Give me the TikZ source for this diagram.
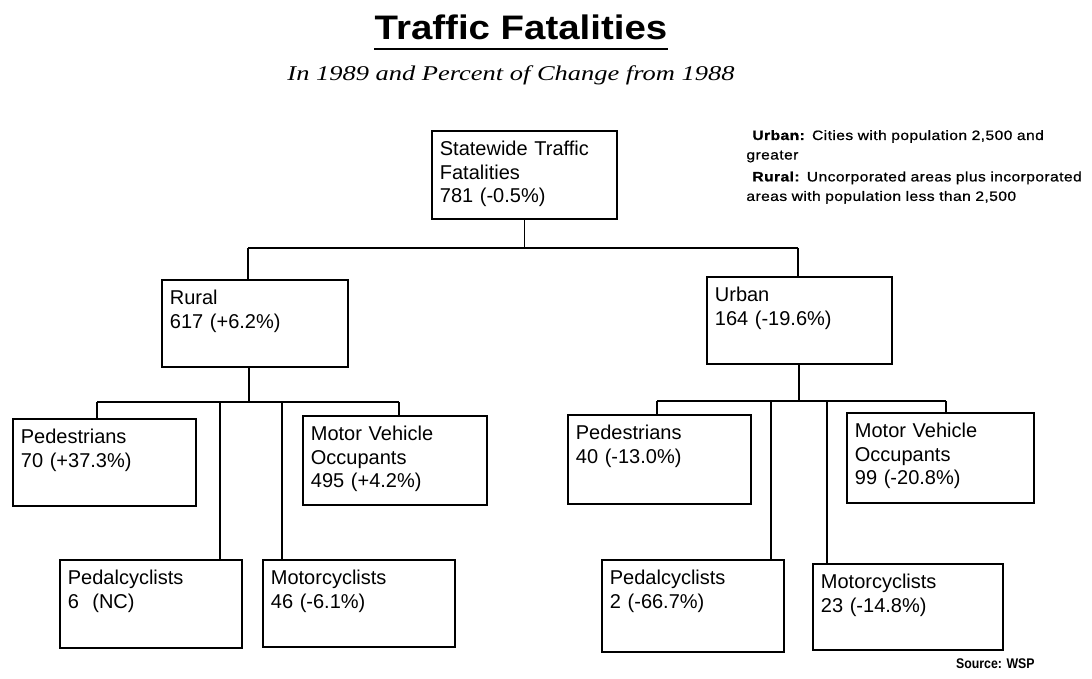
\documentclass[tikz,border=0pt]{standalone}
\usepackage{fontspec}
\setmainfont{Liberation Sans}
\newfontfamily\titlefont[FakeStretch=1.13]{Liberation Sans}
\newfontfamily\subfont[FakeStretch=1.26]{Liberation Serif}
\newfontfamily\legendfont[FakeStretch=1.15,LetterSpace=3,FakeBold=0.8]{Liberation Sans}
\newfontfamily\srcfont[FakeStretch=0.88]{Liberation Sans}
\usepackage{tikz}

\begin{document}
\begin{tikzpicture}[x=0.5pt,y=-0.5pt,
  box/.style={draw,line width=0.9pt,anchor=north west,inner xsep=4pt,inner ysep=0pt,
    align=left,text height=12.5pt,font=\fontsize{10}{11.75}\selectfont},
  link/.style={line width=0.9pt}]
\useasboundingbox (0,0) rectangle (1092,679);

\node[anchor=base,inner sep=0pt,font=\titlefont\bfseries\fontsize{17}{20}\selectfont] (title) at (521,40) {Traffic Fatalities};
\draw[line width=1.3pt] ([yshift=-4.5pt]title.base west) -- ([yshift=-4.5pt]title.base east);
\node[anchor=base,inner sep=0pt,font=\subfont\itshape\fontsize{10.5}{12}\selectfont] (subtitle) at (511,81) {In 1989 and Percent of Change from 1988};

\node[anchor=base west,inner sep=0pt,text width=180pt,align=left,font=\legendfont\fontsize{6.8}{9.75}\selectfont] (legend) at (746,140)
  {\hspace{3pt}\textbf{Urban:} Cities with population 2,500 and\\greater\\[1.2pt]\hspace{3pt}\textbf{Rural:} Uncorporated areas plus incorporated\\areas with population less than 2,500};

\node[box,text width=84.5pt,text depth=31.5pt] (stw) at (431,130) {Statewide Traffic\\Fatalities\\781 (-0.5\%)};
\node[box,text width=85pt,text depth=31pt] (rural) at (161,279) {Rural\\617 (+6.2\%)};
\node[box,text width=84.5pt,text depth=31pt] (urban) at (706,276) {Urban\\164 (-19.6\%)};

\node[box,text width=83.5pt,text depth=31pt] (rped) at (12,418) {Pedestrians\\70 (+37.3\%)};
\node[box,text width=84pt,text depth=32pt] (rmvo) at (302,415) {Motor Vehicle\\Occupants\\495 (+4.2\%)};
\node[box,text width=83pt,text depth=31.5pt] (rpcy) at (59,559) {Pedalcyclists\\6\ \ (NC)};
\node[box,text width=88pt,text depth=31pt] (rmcy) at (262,559) {Motorcyclists\\46 (-6.1\%)};

\node[box,text width=83.5pt,text depth=32pt] (uped) at (567,414) {Pedestrians\\40 (-13.0\%)};
\node[box,text width=85.5pt,text depth=32.5pt] (umvo) at (846,412) {Motor Vehicle\\Occupants\\99 (-20.8\%)};
\node[box,text width=83pt,text depth=33.5pt] (upcy) at (601,559) {Pedalcyclists\\2 (-66.7\%)};
\node[box,text width=87pt,text depth=30.5pt] (umcy) at (812,563) {Motorcyclists\\23 (-14.8\%)};

% top level
\coordinate (tb1) at (248,248);
\coordinate (tb2) at (798,248);
\draw[link] (stw.south) -- (stw.south |- tb1);
\draw[link] (tb1) -- (tb2);
\draw[link] (tb1) -- (tb1 |- rural.north);
\draw[link] (tb2) -- (tb2 |- urban.north);

% rural
\coordinate (rb0) at (249,402);
\coordinate (rb1) at (97,402);
\coordinate (rb2) at (220,402);
\coordinate (rb3) at (282,402);
\coordinate (rb4) at (399,402);
\draw[link] (rb0) -- (rb0 |- rural.south);
\draw[link] (rb1) -- (rb4);
\draw[link] (rb1) -- (rb1 |- rped.north);
\draw[link] (rb2) -- (rb2 |- rpcy.north);
\draw[link] (rb3) -- (rb3 |- rmcy.north);
\draw[link] (rb4) -- (rb4 |- rmvo.north);

% urban
\coordinate (ub0) at (799,401);
\coordinate (ub1) at (657,401);
\coordinate (ub2) at (771,401);
\coordinate (ub3) at (827,401);
\coordinate (ub4) at (946,401);
\draw[link] (ub0) -- (ub0 |- urban.south);
\draw[link] (ub1) -- (ub4);
\draw[link] (ub1) -- (ub1 |- uped.north);
\draw[link] (ub2) -- (ub2 |- upcy.north);
\draw[link] (ub3) -- (ub3 |- umcy.north);
\draw[link] (ub4) -- (ub4 |- umvo.north);

\node[anchor=base east,inner sep=0pt,font=\srcfont\bfseries\fontsize{7}{8}\selectfont] (source) at (1035,668) {Source: WSP};
\end{tikzpicture}
\end{document}
